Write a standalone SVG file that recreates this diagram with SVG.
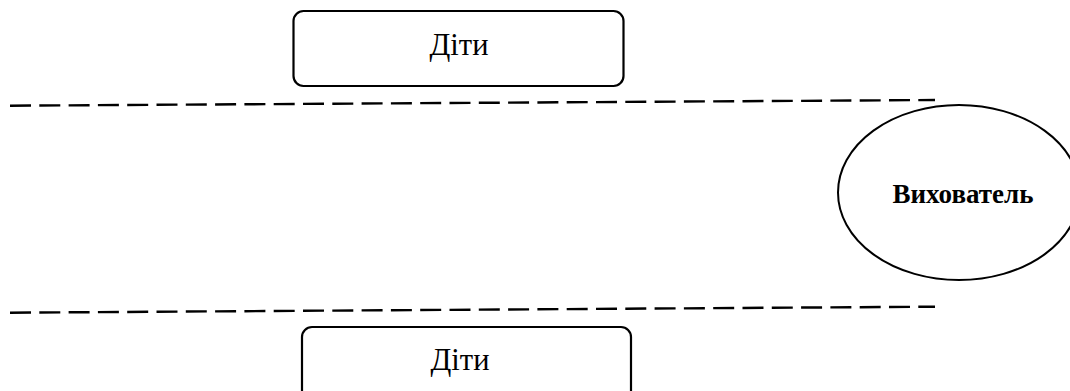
<svg xmlns="http://www.w3.org/2000/svg" width="1070" height="391" viewBox="0 0 1070 391">
<style>
.box{fill:#fff;stroke:#000;stroke-width:2.2}
.ell{fill:#fff;stroke:#000;stroke-width:2}
.dash{stroke:#000;stroke-width:2.4;stroke-dasharray:21 8.3;fill:none}
.t{font-family:"Liberation Serif","Times New Roman",serif;font-size:30.5px;fill:#000;text-anchor:middle}
.tb{font-family:"Liberation Serif","Times New Roman",serif;font-size:27px;font-weight:bold;fill:#000;text-anchor:middle}
</style>
<g id="connectors">
<line class="dash" x1="10" y1="105.7" x2="935" y2="100"/>
<line class="dash" x1="10" y1="312.7" x2="935" y2="306.7"/>
</g>
<g id="node-top">
<rect class="box" x="293.5" y="11" width="330" height="75" rx="10"/>
<text class="t" x="459" y="55">Діти</text>
</g>
<g id="node-bottom">
<rect class="box" x="302" y="327" width="329" height="80" rx="10"/>
<text class="t" x="460" y="370">Діти</text>
</g>
<g id="node-vykhovatel">
<ellipse class="ell" cx="959" cy="192.5" rx="121" ry="87.5"/>
<text class="tb" x="963" y="203">Вихователь</text>
</g>
</svg>
